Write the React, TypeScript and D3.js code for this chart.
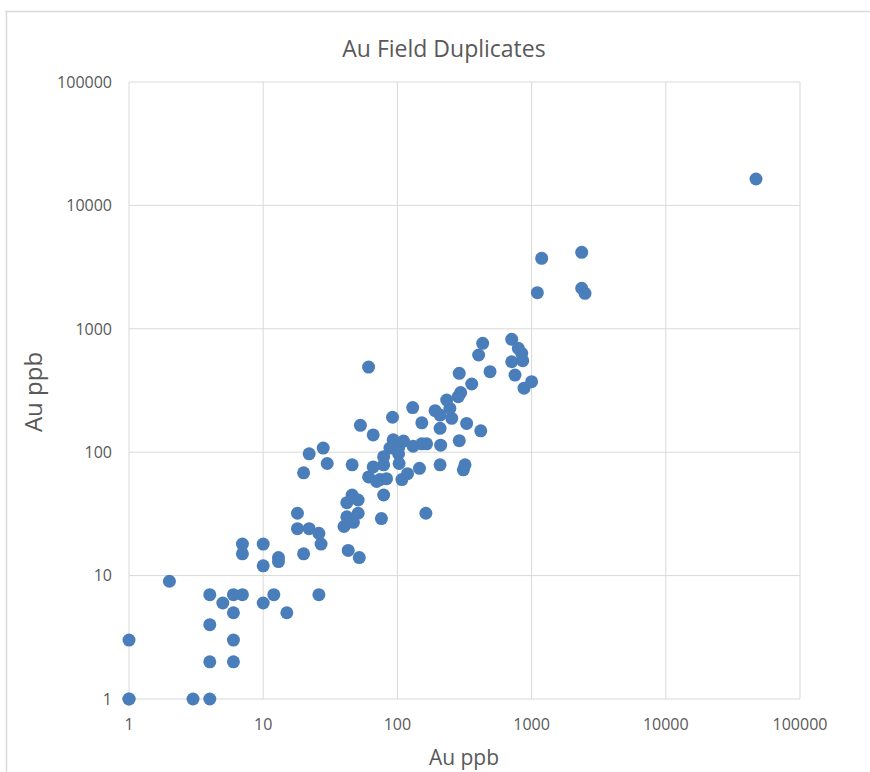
import React from "react";
import * as d3 from "d3";

const xValues = [1,1,1,2,3,4,4,4,4,5,6,6,6,6,7,7,7,10,10,10,12,13,13,15,18,18,20,20,22,22,26,26,27,28,30,40,42,42,43,43,46,46,47,51,51,52,53,61,61,66,66,70,74,76,79,79,79,83,88,92,93,93,102,102,103,108,111,119,130,131,146,152,152,163,165,191,208,208,208,210,233,246,254,284,289,289,296,310,319,328,358,403,418,432,490,711,711,752,796,844,859,878,1000,1104,1189,2362,2362,2500,47000];
const yValues = [1,1,3,9,1,1,7,4,2,6,7,5,3,2,7,18,15,18,12,6,7,14,13,5,32,24,68,15,97,24,22,7,18,108,81,25,39,30,28,16,79,45,27,41,32,14,165,490,63,138,76,58,60,29,92,79,45,61,108,192,126,114,108,97,81,60,123,67,230,112,74,173,117,32,117,217,200,156,79,114,265,227,188,282,436,124,304,72,79,171,357,613,149,763,449,822,541,422,695,633,552,330,373,1963,3726,4168,2130,1940,16370];
const tickValues = [1, 10, 100, 1000, 10000, 100000];
const chartTitle = "Au Field Duplicates";
const xTitle = "Au ppb";
const yTitle = "Au ppb";

export default function App() {
  const W = 870, H = 772;
  const x = d3.scaleLog().domain([1, 100000]).range([129, 800]);
  const y = d3.scaleLog().domain([1, 100000]).range([699, 82]);
  const font = "'Open Sans', sans-serif";
  const grid = "#d9d9d9";
  const txt = "#595959";
  return (
    <svg width={W} height={H} style={{ position: "absolute", left: 0, top: 0 }}>
      <rect x={0} y={0} width={W} height={H} fill="#fff" />
      <line x1={5} x2={W} y1={11.5} y2={11.5} stroke="#d9d9d9" strokeWidth={1.5} />
      <line x1={6.5} x2={6.5} y1={11} y2={H} stroke="#d9d9d9" strokeWidth={1.5} />
      {tickValues.map((t) => (
        <g key={"g" + t}>
          <line x1={x(t)} x2={x(t)} y1={y(100000)} y2={y(1)} stroke={grid} strokeWidth={1} />
          <line x1={x(1)} x2={x(100000)} y1={y(t)} y2={y(t)} stroke={grid} strokeWidth={1} />
        </g>
      ))}
      {tickValues.map((t) => (
        <text key={"yl" + t} x={112} y={y(t)} dy="0.36em" textAnchor="end" fontFamily={font} fontSize={16} fill={txt}>
          {String(t)}
        </text>
      ))}
      {tickValues.map((t) => (
        <text key={"xl" + t} x={x(t)} y={730} textAnchor="middle" fontFamily={font} fontSize={16} fill={txt}>
          {String(t)}
        </text>
      ))}
      <text x={444} y={57} textAnchor="middle" fontFamily={font} fontSize={23} fill={txt}>{chartTitle}</text>
      <text x={464} y={765} textAnchor="middle" fontFamily={font} fontSize={21} fill={txt}>{xTitle}</text>
      <text transform={`translate(42,${392}) rotate(-90)`} textAnchor="middle" fontFamily={font} fontSize={24} fill={txt}>{yTitle}</text>
      {xValues.map((v, i) => (
        <circle key={"p" + i} cx={x(v)} cy={y(yValues[i])} r={6.5} fill="#4a7ebb" />
      ))}
    </svg>
  );
}
